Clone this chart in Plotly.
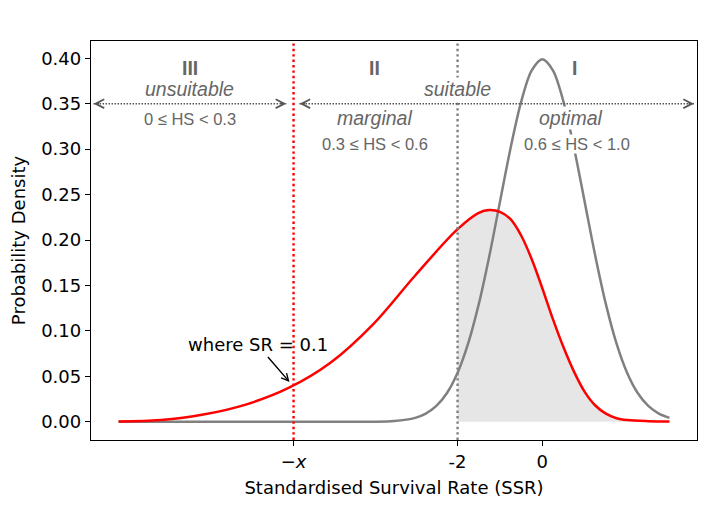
import plotly.graph_objects as go

# ---- data ----
grey_x = [-10, -8, -6, -5, -4.5, -4, -3.5, -3, -2.75, -2.5, -2.25, -2, -1.75, -1.5, -1.25, -1, -0.75,
          -0.5, -0.25, 0, 0.25, 0.5, 0.75, 1, 1.25, 1.5, 1.75, 2, 2.25, 2.5, 2.75, 3]
grey_y = [0.0, 0.0, 0.0, 0.0, 0.0, 0.0001, 0.0009, 0.0044, 0.0091, 0.0175, 0.0317, 0.054, 0.0863,
          0.1295, 0.1826, 0.242, 0.3011, 0.3521, 0.3867, 0.399, 0.3867, 0.3521, 0.3011,
          0.242, 0.1826, 0.1295, 0.0863, 0.054, 0.0317, 0.0175, 0.0091, 0.0044]

red_x = [-10, -9, -8, -7, -6, -5, -4, -3, -2, -1.5, -1.25, -1.0, -0.75, -0.5, -0.25,
         0, 0.25, 0.5, 0.75, 1.0, 1.25, 1.5, 1.75, 2.0, 2.5, 3.0]
red_y = [0.0003, 0.002, 0.008, 0.019, 0.037, 0.065, 0.107, 0.161, 0.212, 0.230, 0.233,
         0.231, 0.223, 0.205, 0.179, 0.147, 0.113, 0.082, 0.055, 0.033, 0.018, 0.009,
         0.004, 0.002, 0.0008, 0.0005]

x_sr = -5.87        # position of -x (where SR = 0.1)
x_suit = -2.0       # suitability threshold
arrow_y = 0.35
arrow_unsuit = [-10.59, -6.04]
arrow_suit = [-5.73, 3.58]

tick_vals = [x_sr, -2, 0]
tick_text = ["\u2212<i>x</i>", "-2", "0"]
y_ticks = [0.0, 0.05, 0.10, 0.15, 0.20, 0.25, 0.30, 0.35, 0.40]

# region labels: (text, x, y, size)
labels = [
    ("<b>III</b>", -8.32, 0.389, 19.5),
    ("<i>unsuitable</i>", -8.32, 0.366, 19.5),
    ("0 \u2264 HS < 0.3", -8.32, 0.333, 16.5),
    ("<b>II</b>", -3.96, 0.389, 19.5),
    ("<i>marginal</i>", -3.96, 0.334, 19.5),
    ("0.3 \u2264 HS < 0.6", -3.96, 0.306, 16.5),
    ("<i>suitable</i>", -2.0, 0.366, 19.5),
    ("<b>I</b>", 0.75, 0.389, 19.5),
    ("<i>optimal</i>", 0.68, 0.334, 19.5),
    ("0.6 \u2264 HS < 1.0", 0.82, 0.306, 16.5),
]

fill_x = [v for v in red_x if v >= x_suit]
fill_y = [red_y[i] for i, v in enumerate(red_x) if v >= x_suit]

fig = go.Figure()
fig.add_trace(go.Scatter(x=fill_x, y=fill_y, mode="lines", fill="tozeroy",
                         fillcolor="rgba(128,128,128,0.2)",
                         line=dict(width=0, shape="spline", smoothing=1),
                         hoverinfo="skip", showlegend=False))
fig.add_trace(go.Scatter(x=grey_x, y=grey_y, mode="lines",
                         line=dict(color="#808080", width=2.5, shape="spline", smoothing=0.9),
                         showlegend=False))
fig.add_trace(go.Scatter(x=red_x, y=red_y, mode="lines",
                         line=dict(color="red", width=2.5, shape="spline", smoothing=1),
                         showlegend=False))

# vertical dotted lines
fig.add_shape(type="line", xref="x", yref="paper", x0=x_sr, x1=x_sr, y0=0, y1=1,
              line=dict(color="red", width=2.4, dash="2.4px,3px"))
fig.add_shape(type="line", xref="x", yref="paper", x0=x_suit, x1=x_suit, y0=0, y1=1,
              line=dict(color="#808080", width=2.4, dash="2.4px,3px"))

# horizontal dotted double arrows
for a0, a1 in (arrow_unsuit, arrow_suit):
    fig.add_shape(type="line", xref="x", yref="y", x0=a0, x1=a1, y0=arrow_y, y1=arrow_y,
                  line=dict(color="#555555", width=1.5, dash="1.5px,1.5px"))
    for hx, off in ((a0, 7), (a1, -7)):
        fig.add_annotation(x=hx, y=arrow_y, ax=off, ay=0, text="", showarrow=True,
                           arrowhead=5, arrowsize=1.15, arrowwidth=1.5,
                           arrowcolor="#555555", standoff=0)

for txt, lx, ly, sz in labels:
    fig.add_annotation(x=lx, y=ly, text=txt, showarrow=False, bgcolor="white",
                       borderpad=0,
                       font=dict(family="Liberation Sans, Arial", size=sz, color="#666666"))

# pointer annotation
fig.add_annotation(x=-5.95, y=0.043, ax=-6.72, ay=0.0846, axref="x", ayref="y",
                   text="where SR = 0.1", showarrow=True, arrowhead=5, arrowsize=1.0,
                   arrowwidth=1.4, arrowcolor="black", standoff=1,
                   font=dict(family="DejaVu Sans", size=18, color="black"))

fig.update_layout(
    width=709, height=510,
    margin=dict(l=91, r=12, t=41, b=70),
    plot_bgcolor="white", paper_bgcolor="white",
    font=dict(family="DejaVu Sans", size=18, color="black"),
)
fig.update_xaxes(range=[-10.65, 3.65], tickvals=tick_vals, ticktext=tick_text,
                 showgrid=False, zeroline=False, showline=True, mirror=True,
                 linecolor="black", linewidth=1.3, ticks="outside", ticklen=5,
                 tickwidth=1.3, tickcolor="black",
                 tickfont=dict(family="DejaVu Sans", size=18),
                 title=dict(text="Standardised Survival Rate (SSR)", standoff=10,
                            font=dict(family="DejaVu Sans", size=18)))
fig.update_yaxes(range=[-0.01995, 0.419], tickvals=y_ticks, tickformat=".2f",
                 showgrid=False, zeroline=False, showline=True, mirror=True,
                 linecolor="black", linewidth=1.3, ticks="outside", ticklen=5,
                 tickwidth=1.3, tickcolor="black",
                 tickfont=dict(family="DejaVu Sans", size=18),
                 title=dict(text="Probability Density", standoff=10,
                            font=dict(family="DejaVu Sans", size=18)))

fig.write_html("out.html")
